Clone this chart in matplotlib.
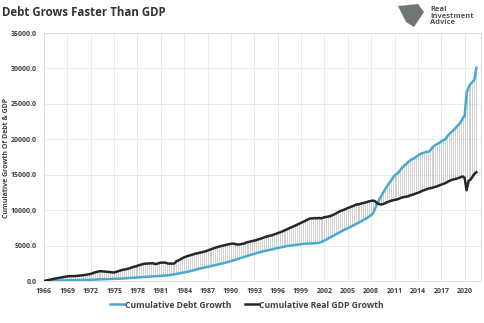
import numpy as np
import matplotlib
matplotlib.use("Agg")
import matplotlib.pyplot as plt
from matplotlib.patches import Polygon

# Quarterly data, 1966Q1 .. 2021Q3
start_year = 1966
gdp_growth = [
    0, 60, 130, 190,
    250, 300, 360, 400,
    450, 510, 560, 610,
    650, 680, 700, 690,
    700, 720, 750, 770,
    800, 850, 900, 950,
    1000, 1100, 1200, 1280,
    1350, 1380, 1360, 1340,
    1300, 1290, 1250, 1220,
    1200, 1280, 1380, 1450,
    1550, 1600, 1650, 1720,
    1800, 1900, 2000, 2050,
    2150, 2250, 2330, 2400,
    2450, 2450, 2480, 2500,
    2500, 2400, 2420, 2520,
    2600, 2580, 2620, 2520,
    2450, 2470, 2450, 2480,
    2800, 2900, 3050, 3200,
    3350, 3450, 3550, 3620,
    3700, 3780, 3870, 3920,
    4000, 4050, 4120, 4200,
    4300, 4400, 4500, 4600,
    4700, 4780, 4860, 4930,
    5000, 5080, 5150, 5200,
    5250, 5280, 5250, 5150,
    5150, 5200, 5250, 5300,
    5450, 5500, 5580, 5650,
    5700, 5780, 5850, 5950,
    6050, 6150, 6250, 6330,
    6400, 6450, 6550, 6650,
    6750, 6850, 6950, 7080,
    7200, 7330, 7450, 7570,
    7700, 7820, 7950, 8080,
    8200, 8330, 8470, 8620,
    8750, 8850, 8830, 8880,
    8850, 8900, 8850, 8900,
    9000, 9050, 9100, 9150,
    9300, 9400, 9550, 9700,
    9850, 9950, 10050, 10180,
    10300, 10400, 10520, 10620,
    10750, 10820, 10850, 10950,
    11000, 11080, 11150, 11250,
    11300, 11350, 11250, 11000,
    10850, 10800, 10850, 10950,
    11100, 11200, 11300, 11380,
    11450, 11500, 11580, 11700,
    11800, 11850, 11900, 11950,
    12100, 12150, 12250, 12350,
    12450, 12550, 12700, 12800,
    12900, 13000, 13080, 13130,
    13200, 13280, 13380, 13480,
    13600, 13700, 13800, 13950,
    14100, 14220, 14320, 14380,
    14450, 14550, 14650, 14750,
    14550, 12800, 14100, 14300,
    14700, 15100, 15350,
]
debt_growth = [
    0, 5, 10, 20,
    30, 40, 50, 60,
    70, 80, 90, 95,
    100, 105, 110, 115,
    120, 130, 135, 140,
    150, 160, 165, 170,
    180, 190, 200, 210,
    220, 228, 235, 242,
    250, 260, 270, 280,
    290, 305, 320, 335,
    350, 370, 385, 400,
    420, 440, 460, 480,
    500, 520, 540, 560,
    580, 600, 615, 630,
    650, 665, 680, 700,
    720, 740, 770, 790,
    820, 860, 900, 950,
    1000, 1050, 1100, 1150,
    1200, 1260, 1320, 1380,
    1450, 1520, 1600, 1680,
    1750, 1810, 1870, 1940,
    2000, 2060, 2120, 2180,
    2250, 2310, 2370, 2430,
    2500, 2570, 2650, 2720,
    2800, 2880, 2970, 3060,
    3150, 3240, 3330, 3420,
    3500, 3590, 3680, 3760,
    3850, 3930, 4000, 4080,
    4150, 4210, 4280, 4340,
    4400, 4460, 4530, 4590,
    4650, 4710, 4780, 4840,
    4900, 4940, 4980, 5020,
    5050, 5090, 5120, 5160,
    5200, 5230, 5260, 5280,
    5300, 5290, 5300, 5320,
    5350, 5380, 5450, 5560,
    5700, 5850, 6000, 6150,
    6300, 6450, 6600, 6750,
    6900, 7050, 7200, 7320,
    7450, 7580, 7720, 7860,
    8000, 8130, 8280, 8440,
    8600, 8750, 8920, 9100,
    9300, 9600, 10200, 10900,
    11400, 11900, 12400, 12900,
    13300, 13700, 14100, 14500,
    14900, 15100, 15300, 15700,
    16000, 16300, 16500, 16800,
    17000, 17200, 17300, 17500,
    17700, 17900, 18000, 18100,
    18200, 18250, 18300, 18700,
    19000, 19200, 19350, 19500,
    19700, 19900, 19950, 20400,
    20700, 21000, 21200, 21500,
    21800, 22100, 22400, 23000,
    23300, 26500, 27300, 27800,
    28100, 28400, 30100,
]
x_tick_years = list(range(1966, 2021, 3))
y_ticks = [0, 5000, 10000, 15000, 20000, 25000, 30000, 35000]

title = "Debt Grows Faster Than GDP"
ylabel = "Cumulative Growth Of Debt & GDP"
debt_label = "Cumulative Debt Growth"
gdp_label = "Cumulative Real GDP Growth"
logo_text = "Real\nInvestment\nAdvice"

plt.rcParams['font.family'] = ['Open Sans', 'DejaVu Sans']

dates = start_year + np.arange(len(debt_growth)) / 4.0
gdp = np.array(gdp_growth, dtype=float)
debt = np.array(debt_growth, dtype=float)

W, H = 485, 323
fig = plt.figure(figsize=(W / 100, H / 100), dpi=100)
ax = fig.add_axes([44 / W, 42 / H, 437 / W, 248 / H])

ax.vlines(dates, np.minimum(gdp, debt), np.maximum(gdp, debt),
          colors='#c4c4c4', linewidth=0.55, zorder=1)
l1, = ax.plot(dates, debt, color='#4aa9cf', linewidth=1.8, zorder=3,
              solid_joinstyle='round')
l2, = ax.plot(dates, gdp, color='#262626', linewidth=1.8, zorder=3,
              solid_joinstyle='round')

ax.set_xlim(1966, 2022.1)
ax.set_ylim(0, 35000)
ax.set_xticks(x_tick_years)
ax.set_xticklabels([str(y) for y in x_tick_years])
ax.set_yticks(y_ticks)
ax.set_yticklabels([f"{v:.1f}" for v in y_ticks])
ax.tick_params(axis='both', length=0, labelsize=5, colors='#404040', pad=5)
for lab in ax.get_xticklabels() + ax.get_yticklabels():
    lab.set_fontweight('bold')
ax.grid(True, color='#e6e6e6', linewidth=0.6, zorder=0)
ax.set_axisbelow(True)
for s in ax.spines.values():
    s.set_color('#d9d9d9')
    s.set_linewidth(0.6)

fig.text(7 / W, 1 - 158 / H, ylabel, fontsize=5, color='#404040',
         fontweight='bold', rotation=90, ha='center', va='center')

fig.text(2 / W, 1 - 12 / H, title, fontsize=8.3, fontweight='bold', color='#333333',
         ha='left', va='center')

# simple stand-in for the logo mark
logo = Polygon([[398 / W, 1 - 6 / H], [418 / W, 1 - 4 / H], [424 / W, 1 - 12 / H],
                [414 / W, 1 - 27 / H], [406 / W, 1 - 22 / H]],
               closed=True, transform=fig.transFigure, facecolor='#6f7775',
               edgecolor='none')
fig.patches.append(logo)
fig.text(430 / W, 1 - 16 / H, logo_text, fontsize=5.4, fontweight='bold',
         color='#555555', ha='left', va='center', linespacing=0.95)

fig.legend([l1, l2], [debt_label, gdp_label], loc='center',
           bbox_to_anchor=(247 / W, 1 - 305 / H), ncol=2, frameon=False,
           prop={'size': 6.2, 'weight': 'bold'}, labelcolor='#404040',
           handlelength=1.6, handletextpad=0.1, columnspacing=1.6)

fig.savefig("out.png", dpi=100)
